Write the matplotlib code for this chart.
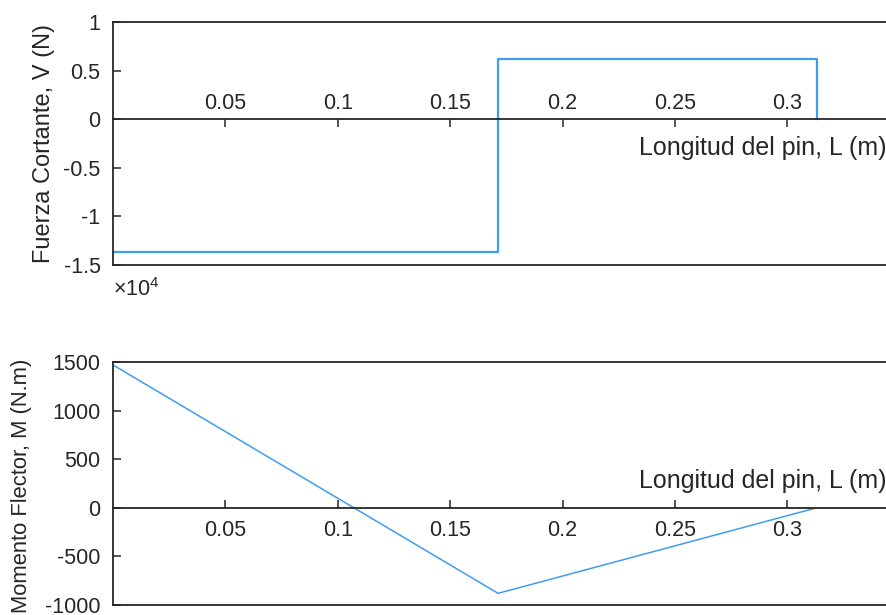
import matplotlib
matplotlib.use("Agg")
import matplotlib.pyplot as plt
from matplotlib.ticker import FuncFormatter

plt.rcParams['font.family'] = ['Liberation Sans', 'DejaVu Sans']
plt.rcParams['mathtext.fontset'] = 'custom'
plt.rcParams['mathtext.rm'] = 'Liberation Sans'

# shear force diagram (N)
L_v = [0, 0.1713, 0.1713, 0.313, 0.313]
V = [-13700, -13700, 6200, 6200, 0]

# bending moment diagram (N.m)
L_m = [0, 0.1713, 0.313]
M = [1470, -880, 0]

x_ticks = [0.05, 0.1, 0.15, 0.2, 0.25, 0.3]
v_ticks = [-15000, -10000, -5000, 0, 5000, 10000]
m_ticks = [-1000, -500, 0, 500, 1000, 1500]

xlab = "Longitud del pin, L (m)"
axc = '#262626'
blue = '#3d9df2'
fs_tick = 15.5
fs_lab = 18

fig = plt.figure(figsize=(8.87, 6.15), dpi=100)
ax1 = fig.add_axes([0.1274, 0.5691, 0.887, 0.3951])
ax2 = fig.add_axes([0.1274, 0.01626, 0.887, 0.3951])

def fmt(v, pos):
    return ('%g' % v).replace('\u2212', '-')

# ---- top: V ----
ax1.plot(L_v, V, color=blue, lw=1.6)
ax1.set_xlim(0, 0.35)
ax1.set_ylim(-15000, 10000)
ax1.spines['top'].set_position(('data', 0))
ax1.spines['right'].set_visible(False)
ax1.xaxis.set_ticks_position('top')
ax1.set_xticks(x_ticks)
ax1.set_yticks(v_ticks)
ax1.xaxis.set_major_formatter(FuncFormatter(fmt))
ax1.yaxis.set_major_formatter(FuncFormatter(lambda v, p: ('%g' % (v / 1e4))))
ax1.tick_params(axis='x', direction='in', length=6, width=1.1, pad=4,
                labelsize=fs_tick, colors=axc)
ax1.tick_params(axis='y', direction='in', length=6, width=1.1, pad=9,
                labelsize=fs_tick, colors=axc)
ax1.axhline(10000, color=axc, lw=1.3, clip_on=False)
ax1.set_xlabel(xlab, fontsize=fs_lab, color=axc, ha='right', va='center')
ax1.xaxis.set_label_coords(0.9825, 0.48)
ax1.set_ylabel("Fuerza Cortante, V (N)", fontsize=17, color=axc, va='center')
ax1.yaxis.set_label_coords(-0.088, 0.5)
ax1.text(0.0, -0.10, r'$\mathregular{\times10^{4}}$', transform=ax1.transAxes,
         fontsize=fs_tick, color=axc, ha='left', va='center')

# ---- bottom: M ----
ax2.plot(L_m, M, color=blue, lw=1.1)
ax2.set_xlim(0, 0.35)
ax2.set_ylim(-1000, 1500)
ax2.spines['bottom'].set_position(('data', 0))
ax2.spines['right'].set_visible(False)
ax2.xaxis.set_ticks_position('bottom')
ax2.set_xticks(x_ticks)
ax2.set_yticks(m_ticks)
ax2.xaxis.set_major_formatter(FuncFormatter(fmt))
ax2.yaxis.set_major_formatter(FuncFormatter(fmt))
ax2.tick_params(axis='x', direction='in', length=6, width=1.1, pad=9,
                labelsize=fs_tick, colors=axc)
ax2.tick_params(axis='y', direction='in', length=6, width=1.1, pad=9,
                labelsize=fs_tick, colors=axc)
ax2.axhline(-1000, color=axc, lw=1.3, clip_on=False)
ax2.set_xlabel(xlab, fontsize=fs_lab, color=axc, ha='right', va='center')
ax2.xaxis.set_label_coords(0.9825, 0.51)
ax2.set_ylabel("Momento Flector, M (N.m)", fontsize=15.8, color=axc, va='center')
ax2.yaxis.set_label_coords(-0.1157, 0.492)

for ax in (ax1, ax2):
    for s in ax.spines.values():
        s.set_color(axc)
        s.set_linewidth(1.3)

fig.savefig("out.png", dpi=100)
